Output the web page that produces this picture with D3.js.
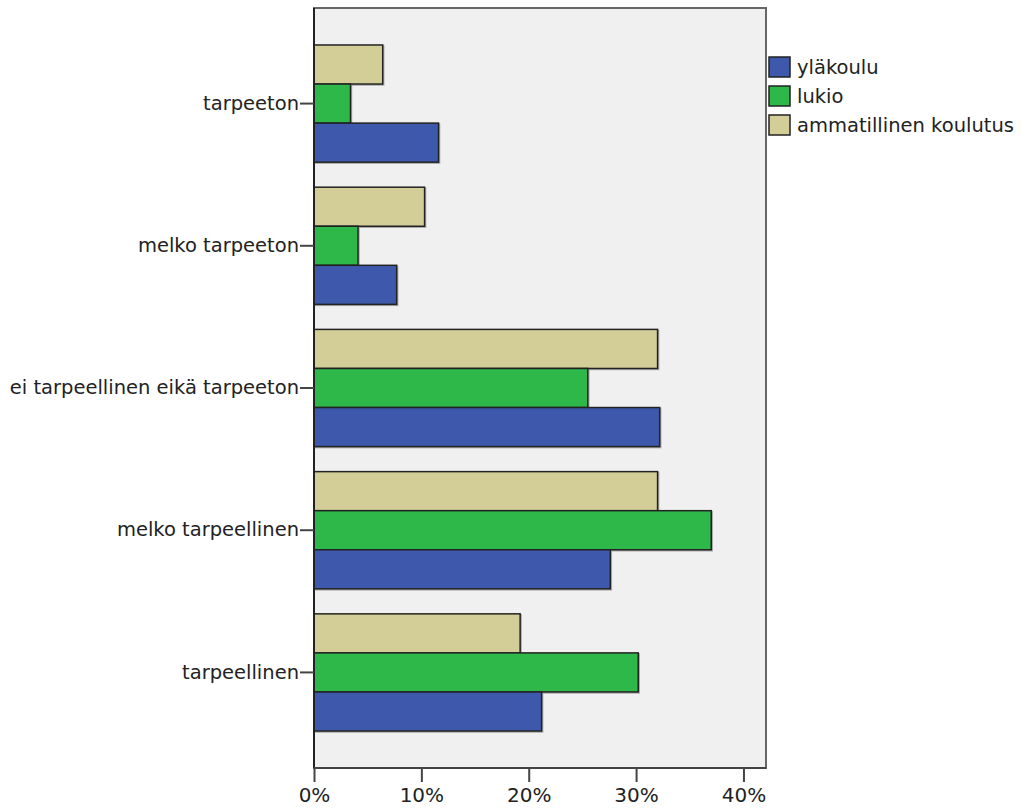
<!DOCTYPE html>
<html><head><meta charset="utf-8">
<script src="https://cdn.jsdelivr.net/npm/d3@7"></script>
<style>body{margin:0;background:#fff;}svg{display:block;font-family:"DejaVu Sans",Verdana,sans-serif;}</style>
</head><body><svg id="c" width="1022" height="811"></svg>
<script>
const categories = ["tarpeeton","melko tarpeeton","ei tarpeellinen eikä tarpeeton","melko tarpeellinen","tarpeellinen"];
const seriesNames = ["ammatillinen koulutus","lukio","yläkoulu"]; // top-to-bottom order in each group
const ylakoulu = [11.6, 7.7, 32.2, 27.6, 21.2];
const lukio = [3.4, 4.1, 25.5, 37.0, 30.2];
const ammatillinen = [6.4, 10.3, 32.0, 32.0, 19.2];
const xTicks = [0, 10, 20, 30, 40];
const legendNames = ["yläkoulu","lukio","ammatillinen koulutus"];
const colors = {"yläkoulu":"#3e58ac","lukio":"#2fb84a","ammatillinen koulutus":"#d3ce97"};
const values = {"yläkoulu":ylakoulu,"lukio":lukio,"ammatillinen koulutus":ammatillinen};

const FONT = "DejaVu Sans, Verdana, sans-serif";
const svg = d3.select("#c");
const L=314, R=766, T=8, B=768;
const x = d3.scaleLinear().domain([0,42.1]).range([L,R]);
const y = d3.scaleBand().domain(categories).range([T,B]).paddingInner(0.176).paddingOuter(0.26);
const ys = d3.scaleBand().domain(seriesNames).range([0,y.bandwidth()]);

svg.append("rect").attr("x",L).attr("y",T).attr("width",R-L).attr("height",B-T)
  .attr("fill","#f0f0f0").attr("stroke","#666").attr("stroke-width",2);

const rows=[];
categories.forEach((c,i)=>seriesNames.forEach(s=>rows.push({c,s,v:values[s][i]})));
svg.append("g").selectAll("rect").data(rows).join("rect")
  .attr("x",L+1).attr("y",d=>y(d.c)+ys(d.s)+1)
  .attr("width",d=>x(d.v)-L).attr("height",ys.bandwidth())
  .attr("fill","none").attr("stroke","#aaa").attr("stroke-width",1.5);
svg.append("g").selectAll("rect").data(rows).join("rect")
  .attr("x",L).attr("y",d=>y(d.c)+ys(d.s))
  .attr("width",d=>x(d.v)-L).attr("height",ys.bandwidth())
  .attr("fill",d=>colors[d.s]).attr("stroke","#222").attr("stroke-width",1.5);

const ya = svg.append("g").attr("transform",`translate(${L},0)`)
  .call(d3.axisLeft(y).tickSize(14).tickPadding(1));
ya.select(".domain").attr("stroke","#222").attr("stroke-width",2).attr("d",`M0,${T}V${B}`);
ya.selectAll(".tick line").attr("stroke","#444").attr("stroke-width",2);
ya.selectAll(".tick text").attr("font-size",19.5).attr("fill","#222").attr("font-family",FONT);

const xa = svg.append("g").attr("transform",`translate(0,${B})`)
  .call(d3.axisBottom(x).tickValues(xTicks).tickFormat(d=>d+"%").tickSize(14).tickPadding(6));
xa.select(".domain").attr("stroke","#444").attr("stroke-width",2).attr("d",`M${L},0H${R}`);
xa.selectAll(".tick line").attr("stroke","#444").attr("stroke-width",2);
xa.selectAll(".tick text").attr("font-size",20).attr("fill","#222").attr("font-family",FONT);

const lg = svg.append("g").attr("transform","translate(769,57)");
legendNames.forEach((n,i)=>{
  const g = lg.append("g").attr("transform",`translate(0,${i*29})`);
  g.append("rect").attr("width",21).attr("height",20).attr("fill",colors[n]).attr("stroke","#222").attr("stroke-width",1.5);
  g.append("text").attr("x",28).attr("y",17).attr("font-size",19.5).attr("fill","#222").attr("font-family",FONT).text(n);
});
</script></body></html>
